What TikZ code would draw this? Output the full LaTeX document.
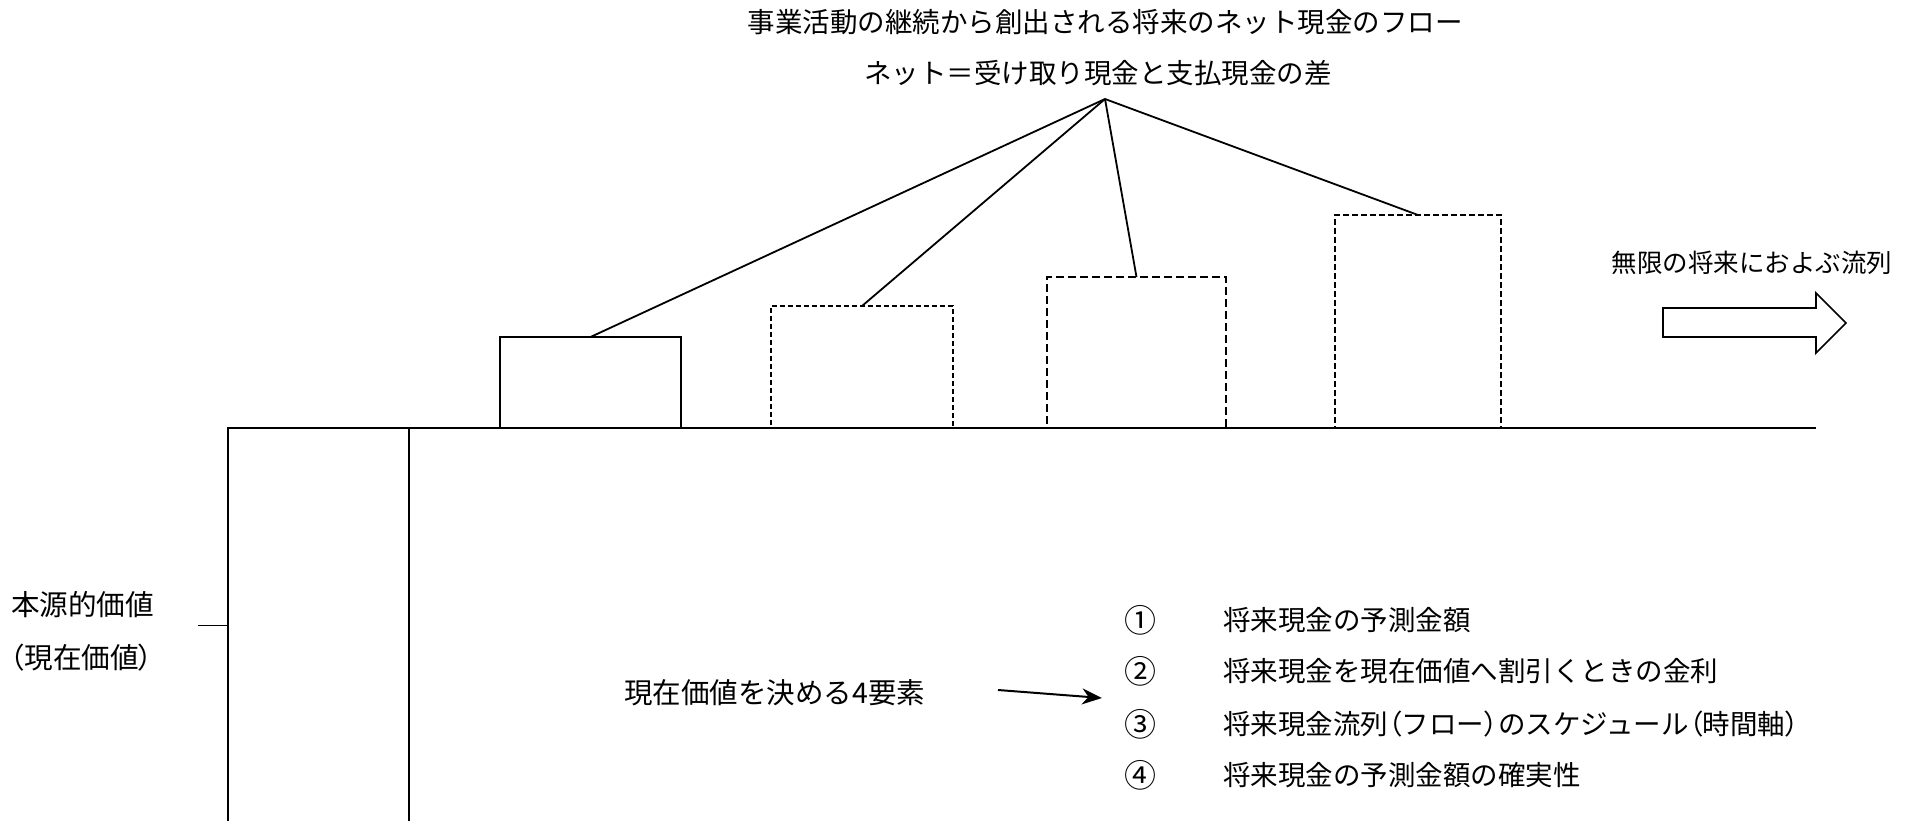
\documentclass[tikz,border=0pt]{standalone}
\usepackage{fontspec}
\newfontfamily\jp{Noto Sans CJK JP}
\newfontfamily\jpp[RawFeature={+palt}]{Noto Sans CJK JP}
\newcommand{\lpar}{{\jpp （}}
\newcommand{\rpar}{{\jpp ）}}
\usetikzlibrary{arrows.meta}
\tikzset{
  txt/.style={font=\jp\fontsize{27.5}{32}\selectfont, inner sep=0pt, text=black},
  numtxt/.style={font=\jp\fontsize{32}{36}\selectfont, inner sep=0pt, text=black},
  box/.style={draw, line width=2pt, inner sep=0pt, outer sep=0pt, anchor=south west},
  dbox2/.style={box, line width=1.6pt, dash pattern=on 5pt off 3pt},
  dbox3/.style={box, line width=2.6pt, dash pattern=on 8pt off 4pt},
  dbox4/.style={box, line width=2pt, dash pattern=on 6pt off 3pt},
  conn/.style={line width=1.8pt},
  axis/.style={line width=2pt},
}
\begin{document}
\begin{tikzpicture}[x=1pt,y=-1pt]
\useasboundingbox (0,0) rectangle (1914,821);
% titles
\node[txt] (t1) at (1105,22) {事業活動の継続から創出される将来のネット現金のフロー};
\node[txt] (t2) at (1098,73) {ネット＝受け取り現金と支払現金の差};
\coordinate (apex) at (1105,99);
% big value bar
\node[box, minimum width=181pt, minimum height=395pt] (big) at (228,823) {};
\coordinate (axisend) at (1816,428);
\draw[axis] (big.north east) -- (axisend);
% cash flow boxes
\node[box, minimum width=181pt, minimum height=91pt] (r1) at (500,428) {};
\node[dbox2, minimum width=182pt, minimum height=122pt] (r2) at (771,428) {};
\node[dbox3, minimum width=179pt, minimum height=151pt] (r3) at (1047,428) {};
\node[dbox4, minimum width=166pt, minimum height=213pt] (r4) at (1335,428) {};
\draw[conn] (apex) -- (r1.north);
\draw[conn] (apex) -- (r2.north);
\draw[conn] (apex) -- (r3.north);
\draw[conn] (apex) -- (r4.north);
% left label
\coordinate (tick) at ([xshift=-30pt]big.west);
\draw[line width=1.6pt] (tick) -- (big.west);
\node[txt, font=\jp\fontsize{28.6}{33}\selectfont, anchor=west] (v1) at (11,605) {本源的価値};
\node[txt, font=\jp\fontsize{28.6}{33}\selectfont, anchor=west] (v2) at (10,658) {\lpar 現在価値\rpar};
% infinite flow arrow
\node[txt, font=\jp\fontsize{25.5}{30}\selectfont] (inf) at (1752,263) {無限の将来におよぶ流列};
\draw[line width=1.6pt, fill=white] (1663,308) -- (1816,308) -- (1816,293) -- (1846,323) -- (1816,353) -- (1816,337) -- (1663,337) -- cycle;
% four elements
\node[txt, font=\jp\fontsize{28.5}{33}\selectfont, anchor=west] (four) at (624,693) {現在価値を決める4要素};
\coordinate (arrs) at (998,690);
\coordinate (arre) at (1102,698);
\draw[line width=2pt, -{Stealth[length=20pt,width=16pt]}] (arrs) -- (arre);
\node[numtxt] (n1) at (1140,620) {①};
\node[numtxt] (n2) at (1140,671) {②};
\node[numtxt] (n3) at (1140,724) {③};
\node[numtxt] (n4) at (1140,775) {④};
\node[txt, anchor=west] (e1) at (1223,620) {将来現金の予測金額};
\node[txt, anchor=west] (e2) at (1223,671) {将来現金を現在価値へ割引くときの金利};
\node[txt, anchor=west] (e3) at (1223,724) {将来現金流列\lpar フロー\rpar のスケジュール\lpar 時間軸\rpar};
\node[txt, anchor=west] (e4) at (1223,775) {将来現金の予測金額の確実性};
\end{tikzpicture}
\end{document}
